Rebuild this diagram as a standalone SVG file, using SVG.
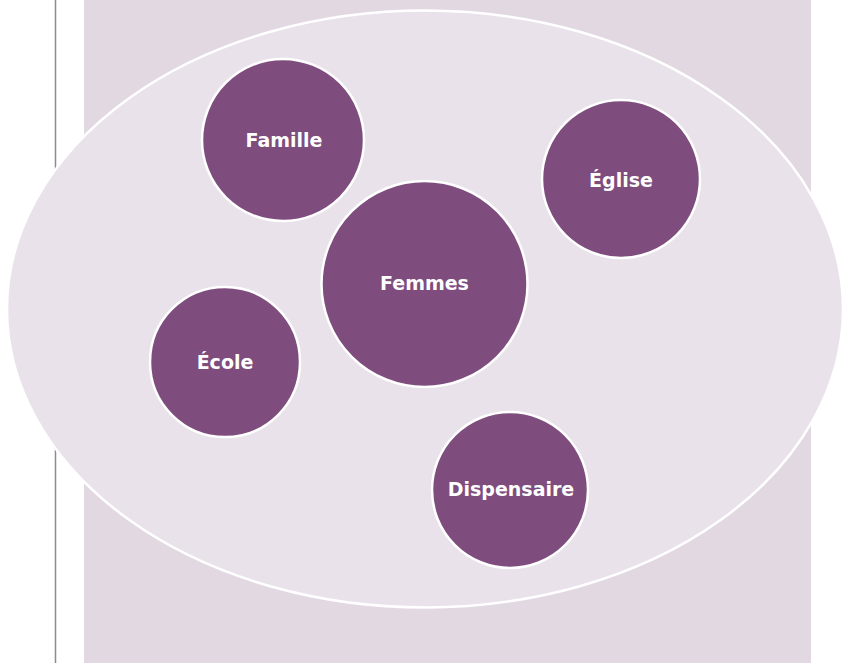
<svg xmlns="http://www.w3.org/2000/svg" width="843" height="663" viewBox="0 0 843 663">
  <style>
    .node { fill: #7e4d7e; stroke: #ffffff; stroke-width: 2.5; }
    .lbl { fill: #ffffff; font-family: "DejaVu Sans", "Liberation Sans", sans-serif; font-weight: bold; font-size: 19px; text-anchor: middle; }
  </style>
  <rect x="0" y="0" width="843" height="663" fill="#ffffff"/>
  <line x1="55.5" y1="0" x2="55.5" y2="663" stroke="#8c8c8c" stroke-width="1.5"/>
  <rect x="84" y="0" width="727" height="663" fill="#e2d8e2"/>
  <ellipse id="context" cx="425" cy="309" rx="418" ry="298.5" fill="#e9e2ea" stroke="#ffffff" stroke-width="2.5"/>
  <g id="connectors"></g>
  <g id="famille">
    <circle class="node" cx="283" cy="140" r="81"/>
    <text class="lbl" x="284" y="147">Famille</text>
  </g>
  <g id="eglise">
    <circle class="node" cx="621" cy="179" r="79"/>
    <text class="lbl" x="621" y="187">Église</text>
  </g>
  <g id="femmes">
    <circle class="node" cx="424.5" cy="284" r="103"/>
    <text class="lbl" x="424.5" y="290">Femmes</text>
  </g>
  <g id="ecole">
    <circle class="node" cx="225" cy="362" r="75"/>
    <text class="lbl" x="225" y="369">École</text>
  </g>
  <g id="dispensaire">
    <circle class="node" cx="510" cy="490" r="78"/>
    <text class="lbl" x="511" y="496">Dispensaire</text>
  </g>
</svg>
